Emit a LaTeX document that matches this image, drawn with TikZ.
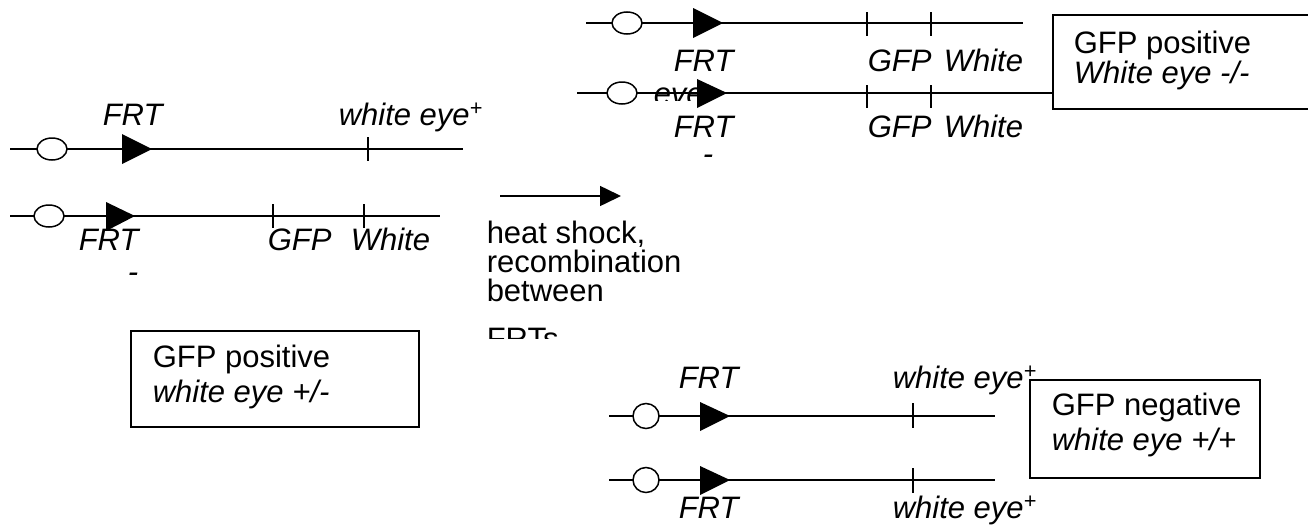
\documentclass[tikz,border=0pt]{standalone}
\usepackage{fontspec}
\setmainfont{Liberation Sans}
\usetikzlibrary{shapes.geometric,arrows.meta}

\begin{document}
\begin{tikzpicture}[x=1pt,y=-1pt,line width=1.5pt,
  every node/.style={font=\fontsize{31}{35}\selectfont, inner sep=0pt},
  lbl/.style={anchor=base west, font=\fontsize{31}{35}\selectfont\itshape},
  txt/.style={anchor=base west},
  locus/.style={ellipse, draw, fill=white, minimum width=30pt, minimum height=22pt},
  pheno/.style={draw, anchor=north west}]
\useasboundingbox (0,0) rectangle (1308,525);

% parent, upper chromosome
\coordinate (c1l) at (10,149); \coordinate (c1r) at (463,149);
\draw (c1l) -- (c1r);
\node [locus] (cen1) at (52,149) {};
\fill (122,134) -- (152,149) -- (122,164) -- cycle;
\draw (368,137) -- (368,161);
\node [lbl] (frt1) at (102,125) {FRT};
\node [lbl] (we1) at (338,125) {white eye\textsuperscript{+}};

% parent, lower chromosome
\coordinate (c2l) at (10,216); \coordinate (c2r) at (440,216);
\draw (c2l) -- (c2r);
\node [locus] (cen2) at (49,216) {};
\fill (106,202) -- (135,216) -- (106,231) -- cycle;
\draw (273,204) -- (273,228);
\draw (364,204) -- (364,228);
\node [lbl] (frt2) at (78,250) {FRT};
\node [lbl] (gfp2) at (267,250) {GFP};
\node [lbl] (wh2) at (350,250) {White};
\node [lbl] (dash2) at (127,282) {-};

% parent phenotype
\node [pheno, minimum width=288pt, minimum height=96pt] (boxL) at (130,330) {};
\node [txt] (gfpL) at (152,367) {GFP positive};
\node [lbl] (weL) at (152,402) {white eye +/-};

% heat shock step
\coordinate (hs0) at (500,196); \coordinate (hs1) at (621,196);
\draw [-{Triangle[length=21pt,width=20pt]}] (hs0) -- (hs1);
\node [txt] (hs2) at (486,243) {heat shock,};
\node [txt] (hs3) at (486,272) {recombination};
\node [txt] (hs4) at (486,301) {between};
\begin{scope}
  \clip (480,318) rectangle (640,338);
  \node [txt] (hs5) at (486,349) {FRTs};
\end{scope}

% white eye -/- product, upper chromosome
\coordinate (cAl) at (586,23); \coordinate (cAr) at (1023,23);
\draw (cAl) -- (cAr);
\node [locus] (cenA) at (627,23) {};
\fill (693,8) -- (723,23) -- (693,38) -- cycle;
\draw (867,12) -- (867,36);
\draw (931,12) -- (931,36);
\node [lbl] (frtA) at (673,71) {FRT};
\node [lbl] (gfpA) at (867,71) {GFP};
\node [lbl] (whA) at (943,71) {White};

% white eye -/- product, lower chromosome
\begin{scope}
  \clip (640,86) rectangle (705,100);
  \node [lbl] (eyeB) at (653,104) {eye};
\end{scope}
\node [pheno, minimum width=290pt, minimum height=94pt] (boxA) at (1052,14) {};
\coordinate (cBl) at (577,93);
\draw (cBl) -- (boxA.west |- cBl);
\node [locus] (cenB) at (622,93) {};
\fill (697,79) -- (727,93) -- (697,108) -- cycle;
\draw (867,85) -- (867,108);
\draw (931,85) -- (931,108);
\node [lbl] (frtB) at (673,137) {FRT};
\node [lbl] (gfpB) at (867,137) {GFP};
\node [lbl] (whB) at (943,137) {White};
\node [lbl] (dashB) at (702,164) {-};
\node [txt] (gfpA2) at (1073,53) {GFP positive};
\node [lbl] (weA) at (1073,83) {White eye -/-};

% white eye +/+ product
\coordinate (cCl) at (609,416); \coordinate (cCr) at (995,416);
\draw (cCl) -- (cCr);
\node [locus, minimum width=26pt, minimum height=25pt] (cenC) at (646,416) {};
\fill (700,402) -- (730,416) -- (700,431) -- cycle;
\draw (913,403) -- (913,428);
\node [lbl] (frtC) at (678,388) {FRT};
\node [lbl] (weC) at (892,388) {white eye\textsuperscript{+}};

\coordinate (cDl) at (609,480); \coordinate (cDr) at (995,480);
\draw (cDl) -- (cDr);
\node [locus, minimum width=26pt, minimum height=25pt] (cenD) at (646,480) {};
\fill (700,466) -- (730,480) -- (700,495) -- cycle;
\draw (913,468) -- (913,493);
\node [lbl] (frtD) at (678,518) {FRT};
\node [lbl] (weD) at (892,518) {white eye\textsuperscript{+}};

\node [pheno, minimum width=230pt, minimum height=98pt] (boxC) at (1029,379) {};
\node [txt] (gfpC) at (1051,415) {GFP negative};
\node [lbl] (weC2) at (1051,450) {white eye +/+};
\end{tikzpicture}
\end{document}
